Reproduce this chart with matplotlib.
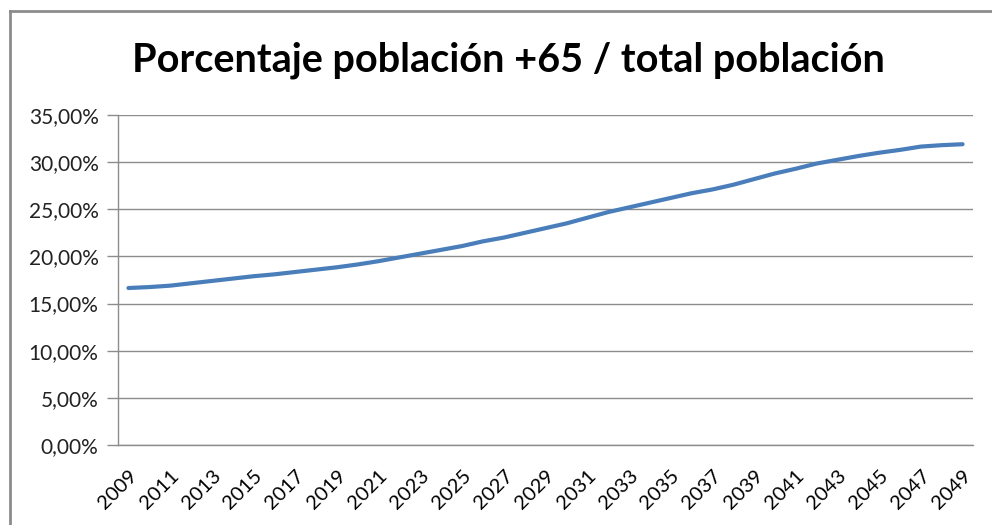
import matplotlib
matplotlib.use("Agg")
import matplotlib.pyplot as plt
from matplotlib.lines import Line2D
from matplotlib.ticker import FuncFormatter

years = list(range(2009, 2050))
values = [16.65, 16.75, 16.90, 17.15, 17.40, 17.65, 17.90, 18.10, 18.35, 18.60,
          18.85, 19.15, 19.50, 19.90, 20.30, 20.70, 21.10, 21.60, 22.00, 22.50,
          23.00, 23.50, 24.10, 24.70, 25.20, 25.70, 26.20, 26.70, 27.10, 27.60,
          28.20, 28.80, 29.30, 29.85, 30.25, 30.65, 31.00, 31.30, 31.65, 31.80,
          31.90]
title = "Porcentaje población +65 / total población"
y_ticks = [0, 5, 10, 15, 20, 25, 30, 35]

W, H = 992, 525
fig = plt.figure(figsize=(W / 100, H / 100), dpi=100)
fig.patch.set_facecolor("white")

# outer chart border (left and top visible)
fig.add_artist(Line2D([10 / W, 10 / W], [0, 1 - 11 / H], transform=fig.transFigure,
                      color="#8c8c8c", lw=2))
fig.add_artist(Line2D([10 / W, 1.0], [1 - 11 / H, 1 - 11 / H], transform=fig.transFigure,
                      color="#8c8c8c", lw=2))

ax = fig.add_axes([118 / W, (H - 445) / H, (973 - 118) / W, (445 - 115) / H])
x = list(range(len(years)))
ax.plot(x, values, color="#4a7ebb", lw=3.0, solid_capstyle="round")

ax.set_xlim(-0.5, len(years) - 0.5)
ax.set_ylim(0, 35)
ax.set_yticks(y_ticks)
ax.yaxis.set_major_formatter(FuncFormatter(lambda v, p: f"{v:.2f}".replace(".", ",") + "%"))
ax.grid(axis="y", color="#8c8c8c", lw=1)
ax.set_axisbelow(True)

ax.set_xticks(x[::2])
ax.set_xticklabels([str(y) for y in years[::2]], rotation=45, ha="right", va="top",
                   rotation_mode="anchor")
for lab in ax.get_xticklabels():
    lab.set_fontfamily("Lato")
    lab.set_fontsize(14.5)
for lab in ax.get_yticklabels():
    lab.set_fontfamily("Lato")
    lab.set_fontsize(15)
ax.tick_params(axis="x", length=0, pad=16, colors="black")
ax.tick_params(axis="y", length=8, width=1, color="#8c8c8c", pad=6, labelcolor="#222222")

for s in ["top", "right"]:
    ax.spines[s].set_visible(False)
for s in ["left", "bottom"]:
    ax.spines[s].set_color("#8c8c8c")
    ax.spines[s].set_linewidth(1)

fig.text(508 / W, 1 - 60 / H, title, ha="center", va="center", fontsize=28.5,
         fontweight="bold", family="Lato", color="black")

fig.savefig("out.png", dpi=100, facecolor="white")
